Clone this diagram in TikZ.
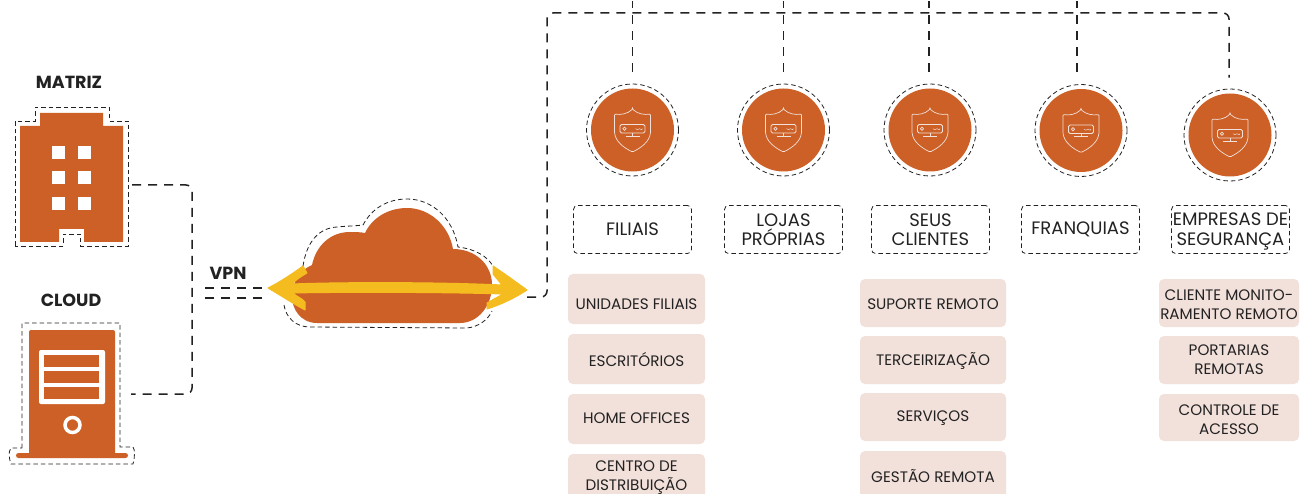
\documentclass[tikz,border=0pt]{standalone}
\usepackage{fontspec}
\setmainfont{Poppins}
\definecolor{rust}{HTML}{CC6026}
\definecolor{blush}{HTML}{F2E0DA}
\definecolor{amber}{HTML}{F4BC1F}
\definecolor{ink}{HTML}{222222}
\tikzset{
    link/.style={draw=ink, line width=1.5pt, dash pattern=on 9pt off 7pt, rounded corners=6pt},
    outline/.style={draw=ink, line width=.8pt, dash pattern=on 4.5pt off 3pt},
    heading/.style={font=\fontsize{17.5}{20}\selectfont\bfseries, text=ink},
    titletext/.style={inner sep=0pt, align=center, text=ink, font=\fontsize{18}{19.5}\selectfont},
    titlebox/.style={titletext, outline, rounded corners=4pt, minimum width=118pt, minimum height=48pt},
    pinkbox/.style={fill=blush, rounded corners=5pt, inner sep=0pt},
    pinktext/.style={align=center, text=ink, inner sep=0pt, font=\fontsize{15.2}{19}\selectfont},
    portring/.style={circle, outline, minimum size=92pt, inner sep=0pt},
    shield/.pic={
        \draw[line width=.7pt, draw=blush, rounded corners=1pt] (0,-21) .. controls (-5,-16) and (-12,-15) .. (-18,-16) -- (-18,2) .. controls (-17,12) and (-8,18) .. (0,22) .. controls (8,18) and (17,12) .. (18,2) -- (18,-16) .. controls (12,-15) and (5,-16) .. (0,-21) -- cycle;
        \draw[line width=.9pt, draw=blush, rounded corners=1.5pt] (-12.5,-5.5) rectangle (12.5,3);
        \draw[line width=.7pt, draw=blush] (-8,-1.3) circle (1.6);
        \draw[line width=.5pt, draw=blush] (3,-1.3) -- (5,-.3) -- (7,-1.3) -- (9,-.3) -- (10,-1.3);
        \draw[line width=.7pt, draw=blush] (0,3) -- (0,6) (-7,6) -- (7,6);
    }
}
\begin{document}
\begin{tikzpicture}[x=1pt, y=-1pt]
    \clip[use as bounding box] (0,0) rectangle (1303,494);
    \fill[white] (0,0) rectangle (1303,494);

    % matriz
    \node[heading] (matrizlabel) at (69,82) {MATRIZ};
    \node[minimum width=113pt, minimum height=139pt, inner sep=0pt] (matrizbox) at (71.5,176.5) {};
    \fill[rust] (20,126) -- (40,126) -- (40,113) -- (103,113) -- (103,126) -- (123,126) -- (123,242) -- (84,242) -- (84,229) -- (59,229) -- (59,242) -- (20,242) -- cycle;
    \foreach \y in {146,171,197}
        \foreach \x in {52,78}
            \fill[white] (\x,\y) rectangle ++(13,13);
    \draw[outline] (15,246) -- (15,121) -- (35,121) -- (35,107) -- (109,107) -- (109,121) -- (128,121) -- (128,246) -- (80,246) -- (80,234) -- (63,234) -- (63,246) -- cycle;

    % cloud
    \node[heading] (cloudlabel) at (71,300) {CLOUD};
    \node[minimum width=98pt, minimum height=125pt, inner sep=0pt] (serverbox) at (71,385.5) {};
    \fill[rust, rounded corners=2pt] (29,456) -- (29,330) -- (115,330) -- (115,456) -- cycle;
    \fill[rust, rounded corners=2.5pt] (16,453) rectangle (128,458);
    \fill[white, rounded corners=2pt] (39,350) rectangle (105,404);
    \foreach \y in {355,371,387}
        \fill[rust] (44,\y) rectangle (99,\y+12);
    \draw[white, line width=3.5pt] (72.5,425) circle (7.5);
    \draw[outline] (22,448) -- (22,323) -- (120,323) -- (120,447) -- (133,447) .. controls (135,450) and (135,456) .. (133,464) -- (11,464) .. controls (9,458) and (8,452) .. (11,448) -- cycle;

    % vpn
    \node[heading] (vpnlabel) at (228,273) {VPN};
    \coordinate (vpnbus) at (192,290);
    \coordinate (cloudin) at (262,288);
    \coordinate (cloudlow) at (262,298);
    \coordinate (cloudout) at (527,297);
    \coordinate (busleft) at (547,13);
    \coordinate (busright) at (1229,13);
    \draw[link] ([shift={(4,8.5)}]matrizbox.east) -| (vpnbus) |- ([shift={(11,8.5)}]serverbox.east);
    \draw[link] (cloudin) -- (205,288);
    \draw[link] (cloudlow) -- (205,298);

    % vpn cloud
    \fill[rust] (317,323) .. controls (300,323) and (292,308) .. (292,297) .. controls (292,282) and (300,270) .. (312,265) .. controls (316,246) and (330,232) .. (350,232) .. controls (355,232) and (360,232) .. (365,233) .. controls (372,218) and (388,208) .. (407,208) .. controls (430,208) and (449,226) .. (453,249) .. controls (475,249) and (492,264) .. (492,285) .. controls (492,306) and (478,323) .. (460,323) -- cycle;
    \draw[outline] (303,266) .. controls (307,240) and (320,228) .. (337,227) .. controls (347,226) and (355,226) .. (363,225) .. controls (372,208) and (388,199) .. (407,199) .. controls (432,199) and (453,218) .. (458,247) .. controls (475,249) and (487,256) .. (493,266);
    \draw[outline] (284,305) .. controls (286,318) and (296,327) .. (310,327) -- (467,328) .. controls (478,327) and (488,320) .. (492,311);
    \fill[amber, draw=amber, line width=1pt, line join=round] (268,288) .. controls (280,282) and (292,274) .. (303,266) -- (307,273) .. controls (300,277) and (296,280) .. (292,284) .. controls (340,282) and (440,282) .. (502,285) -- (493,274) -- (493,266) .. controls (505,274) and (516,282) .. (527,290) .. controls (515,298) and (500,305) .. (487,309) -- (487,303) -- (503,294) .. controls (440,292) and (340,292) .. (293,293) .. controls (297,297) and (302,298) .. (305,302) -- (305,310) .. controls (292,303) and (280,295) .. (268,288) -- cycle;

    % bus
    \foreach \i/\x/\y in {1/632.5/130, 2/783.5/130, 3/930/130, 4/1081/130.5, 5/1230/135} {
        \fill[rust] (\x,\y) circle (41.5);
        \node[portring] (port\i) at (\x,\y) {};
        \pic at (\x,\y) {shield};
    }
    \draw[link] (cloudout) -| (busleft) -- (busright) -- ([xshift=-1pt,yshift=11pt]port5.north);
    \foreach \i/\dx in {1/0,2/0,3/-1,4/-4}
        \draw[link] ([xshift=\dx pt,yshift=12pt]port\i.north) -- ([xshift=\dx pt,yshift=12pt]port\i.north |- busleft);

    % titles
    \node[titlebox] (filiais) at (632.5,229.5) {FILIAIS};
    \node[titlebox] (lojas) at (783.5,229.5) {LOJAS\\PRÓPRIAS};
    \node[titlebox] (seus) at (930.5,229.5) {SEUS\\CLIENTES};
    \node[titlebox] (franquias) at (1080.5,229.5) {FRANQUIAS};
    \node[titlebox] (empresas) at (1230.5,229.5) {};
    \node[titletext] (empresastext) at (1230.5,231.5) {EMPRESAS DE\\SEGURANÇA};

    % lists
    \foreach \x/\w/\top/\bot/\ty/\txt in {
        636.5/137/274/324/304/UNIDADES FILIAIS,
        636.5/137/334/384/360/ESCRITÓRIOS,
        636.5/137/394/444/418/HOME OFFICES,
        636.5/137/454/510/477.5/{CENTRO DE\\DISTRIBUIÇÃO},
        933/146/279/327/304/SUPORTE REMOTO,
        933/146/336/384/361/TERCEIRIZAÇÃO,
        933/146/393/441/418.5/SERVIÇOS,
        933/146/451/510/476/GESTÃO REMOTA,
        1229/140/279/327/304.5/{CLIENTE MONITO-\\RAMENTO REMOTO},
        1229/140/336/384/359.5/{PORTARIAS\\REMOTAS},
        1229/140/394/441/419.5/{CONTROLE DE\\ACESSO}} {
        \fill[pinkbox] (\x-\w/2,\top) rectangle (\x+\w/2,\bot);
        \node[pinktext] at (\x,\ty) {\txt};
    }
\end{tikzpicture}
\end{document}
